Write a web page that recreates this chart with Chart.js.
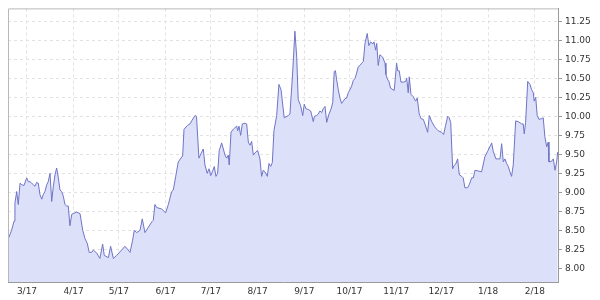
<!DOCTYPE html>
<html>
<head>
    <title>Price Chart</title>
    <meta charset="UTF-8">
    <script src="https://cdn.jsdelivr.net/npm/chart.js"></script>
    <style>
        body { margin: 0; background: #fff; }
    </style>
</head>
<body>
    <canvas id="priceChart" width="600" height="300"></canvas>

    <script>
        // days since 1 Mar 2017
        const days = [
            -12.4, -10.2, -8.6, -8.0, -6.8, -5.8, -4.6, -3.5, -2.0, -0.2,
            0.9, 2.0, 3.1, 4.2, 5.3, 6.4, 7.5, 8.6, 9.8, 10.8,
            11.9, 13.1, 14.1, 15.3, 16.4, 17.5, 18.6, 19.7, 20.8, 21.9,
            23.0, 24.1, 25.2, 26.3, 27.4, 28.5, 29.7, 30.7, 33.0, 35.2,
            37.0, 38.5, 40.0, 41.3, 42.9, 44.0, 46.3, 48.4, 50.2, 51.3,
            54.0, 55.5, 57.3, 59.5, 62.8, 65.0, 67.2, 68.4, 70.1, 71.2,
            72.8, 75.0, 76.5, 78.3, 80.5, 82.8, 83.8, 84.9, 86.1, 89.4,
            92.0, 93.8, 96.0, 97.1, 98.7, 100.4, 103.3, 104.2, 106.5, 108.2,
            109.3, 111.5, 112.5, 114.1, 115.5, 117.0, 118.1, 119.6, 120.8, 121.9,
            123.0, 124.3, 125.4, 126.5, 127.6, 129.2, 130.3, 131.4, 132.5, 133.6,
            134.2, 135.4, 136.9, 138.0, 139.2, 139.8, 140.7, 141.8, 142.9, 144.7,
            145.8, 146.9, 148.0, 149.1, 150.2, 151.8, 153.1, 154.6, 155.7, 156.8,
            157.9, 159.5, 160.6, 161.7, 162.8, 163.9, 165.7, 167.2, 168.6, 170.7,
            173.4, 174.5, 176.3, 177.8, 179.0, 180.0, 181.6, 183.0, 184.0, 185.1,
            186.7, 188.3, 190.0, 190.7, 192.2, 193.3, 194.4, 195.6, 196.6, 197.8,
            198.9, 200.4, 201.7, 202.9, 203.9, 204.7, 205.5, 206.6, 207.7, 208.8,
            209.9, 211.0, 212.1, 213.2, 214.3, 215.5, 216.5, 217.7, 218.8, 219.8,
            221.0, 222.1, 223.2, 224.3, 225.8, 226.9, 228.1, 229.4, 230.3, 231.4,
            232.1, 233.1, 234.2, 236.0, 237.6, 238.2, 239.4, 240.2, 241.3, 243.7,
            245.3, 246.0, 247.0, 248.2, 249.7, 251.3, 252.0, 253.0, 253.7, 254.8,
            256.3, 257.9, 259.0, 260.3, 261.5, 263.0, 264.1, 265.9, 267.0, 268.6,
            270.3, 271.9, 272.9, 274.1, 275.2, 276.5, 277.8, 279.2, 280.2, 281.2,
            282.5, 283.3, 284.5, 285.8, 286.9, 288.5, 289.5, 290.6, 292.4, 293.5,
            295.1, 296.2, 297.3, 299.5, 301.7, 303.9, 305.7, 307.2, 308.4, 309.4,
            311.2, 312.8, 313.9, 315.0, 316.1, 317.2, 318.3, 319.4, 320.5, 321.6,
            322.7, 324.3, 326.0, 328.3, 329.3, 330.0, 330.9, 332.3, 333.8, 334.9,
            336.0, 336.6, 337.6, 338.6, 339.8, 341.6, 342.6, 343.7, 344.9, 345.9,
            346.4, 348.2, 349.3, 350.4, 351.5, 352.2
        ];
        const prices = [
            8.39, 8.50, 8.62, 8.86, 9.01, 8.84, 9.12, 9.10, 9.09, 9.19,
            9.14, 9.14, 9.12, 9.10, 9.08, 9.13, 9.12, 8.97, 8.91, 8.97,
            9.01, 9.10, 9.14, 9.25, 8.88, 9.08, 9.23, 9.32, 9.19, 9.03,
            9.01, 8.95, 8.84, 8.82, 8.82, 8.56, 8.71, 8.72, 8.74, 8.72,
            8.50, 8.39, 8.33, 8.21, 8.21, 8.24, 8.20, 8.13, 8.32, 8.17,
            8.14, 8.29, 8.13, 8.17, 8.24, 8.29, 8.24, 8.21, 8.37, 8.50,
            8.47, 8.50, 8.65, 8.47, 8.54, 8.61, 8.63, 8.84, 8.80, 8.78,
            8.73, 8.84, 9.01, 9.03, 9.21, 9.40, 9.48, 9.83, 9.88, 9.90,
            9.94, 10.01, 10.00, 9.45, 9.51, 9.57, 9.36, 9.25, 9.31, 9.22,
            9.27, 9.34, 9.21, 9.25, 9.55, 9.65, 9.57, 9.49, 9.45, 9.49,
            9.36, 9.79, 9.83, 9.85, 9.87, 9.81, 9.87, 9.75, 9.90, 9.91,
            9.90, 9.66, 9.62, 9.67, 9.49, 9.53, 9.55, 9.44, 9.21, 9.29,
            9.27, 9.21, 9.38, 9.34, 9.39, 9.81, 10.01, 10.42, 10.35, 9.98,
            10.01, 10.03, 10.57, 11.12, 10.78, 10.22, 10.14, 10.01, 10.16, 10.10,
            10.09, 10.07, 9.93, 10.00, 10.01, 10.03, 10.07, 10.05, 10.10, 10.13,
            9.92, 10.03, 10.09, 10.18, 10.59, 10.60, 10.48, 10.35, 10.24, 10.17,
            10.20, 10.23, 10.24, 10.31, 10.35, 10.40, 10.47, 10.50, 10.57, 10.65,
            10.67, 10.70, 10.72, 10.96, 11.09, 10.93, 10.98, 10.95, 10.98, 10.87,
            10.96, 10.67, 10.81, 10.78, 10.70, 10.55, 10.48, 10.46, 10.37, 10.34,
            10.70, 10.60, 10.60, 10.45, 10.45, 10.46, 10.50, 10.31, 10.52, 10.29,
            10.26, 10.20, 10.24, 10.03, 9.97, 9.96, 9.90, 9.79, 10.01, 9.93,
            9.87, 9.83, 9.81, 9.80, 9.79, 9.76, 9.88, 10.00, 9.98, 9.92,
            9.31, 9.35, 9.37, 9.44, 9.23, 9.21, 9.19, 9.06, 9.06, 9.10,
            9.19, 9.19, 9.29, 9.28, 9.27, 9.47, 9.54, 9.60, 9.65, 9.54,
            9.44, 9.44, 9.44, 9.64, 9.40, 9.44, 9.38, 9.34, 9.27, 9.21,
            9.36, 9.94, 9.93, 9.90, 9.90, 9.77, 9.92, 10.46, 10.42, 10.35,
            10.31, 10.20, 10.25, 10.01, 9.96, 9.97, 9.98, 9.73, 9.60, 9.66,
            9.40, 9.41, 9.44, 9.29, 9.40, 9.53
        ];

        // month starts (days since 1 Mar 2017) and their labels
        const monthDays = [0, 31, 61, 92, 122, 153, 184, 214, 245, 275, 306, 337];
        const monthLabels = ['3/17', '4/17', '5/17', '6/17', '7/17', '8/17', '9/17', '10/17', '11/17', '12/17', '1/18', '2/18'];
        const yTicks = [8.00, 8.25, 8.50, 8.75, 9.00, 9.25, 9.50, 9.75, 10.00, 10.25, 10.50, 10.75, 11.00, 11.25];

        const tickFont = { family: 'DejaVu Sans', size: 9 };

        // light frame on top and left of the plot area
        const frame = {
            id: 'frame',
            afterDatasetsDraw(chart) {
                const { ctx, chartArea: a } = chart;
                ctx.save();
                ctx.strokeStyle = '#b8b8b8';
                ctx.lineWidth = 1;
                ctx.beginPath();
                ctx.moveTo(a.left + 0.5, a.bottom);
                ctx.lineTo(a.left + 0.5, a.top + 0.5);
                ctx.lineTo(a.right, a.top + 0.5);
                ctx.stroke();
                ctx.restore();
            }
        };

        const ctx = document.getElementById('priceChart').getContext('2d');
        new Chart(ctx, {
            type: 'line',
            data: {
                datasets: [{
                    data: days.map((d, i) => ({ x: d, y: prices[i] })),
                    borderColor: '#6f75c6',
                    backgroundColor: '#dce0f9',
                    borderWidth: 1,
                    fill: 'start',
                    pointRadius: 0,
                    tension: 0
                }]
            },
            options: {
                responsive: false,
                animation: false,
                devicePixelRatio: 1,
                layout: { padding: { left: 8, top: 4, right: 0, bottom: 0 } },
                plugins: {
                    legend: { display: false },
                    tooltip: { enabled: false }
                },
                scales: {
                    x: {
                        type: 'linear',
                        min: -12.6,
                        max: 352.4,
                        afterBuildTicks: s => { s.ticks = monthDays.map(v => ({ value: v })); },
                        afterFit: s => { s.height = 18; },
                        ticks: {
                            autoSkip: false,
                            maxRotation: 0,
                            padding: 4,
                            color: '#333',
                            font: tickFont,
                            callback: v => monthLabels[monthDays.indexOf(v)]
                        },
                        grid: { color: '#e2e2e2', drawTicks: false },
                        border: { color: '#999', dash: [3, 3] }
                    },
                    y: {
                        position: 'right',
                        min: 7.82,
                        max: 11.42,
                        afterBuildTicks: s => { s.ticks = yTicks.map(v => ({ value: v })); },
                        afterFit: s => { s.width = 42; },
                        ticks: {
                            padding: 3,
                            color: '#333',
                            font: tickFont,
                            callback: v => v.toFixed(2)
                        },
                        grid: { color: '#e2e2e2', tickLength: 4, tickColor: '#999' },
                        border: { color: '#999', dash: [3, 3] }
                    }
                }
            },
            plugins: [frame]
        });
    </script>
</body>
</html>
